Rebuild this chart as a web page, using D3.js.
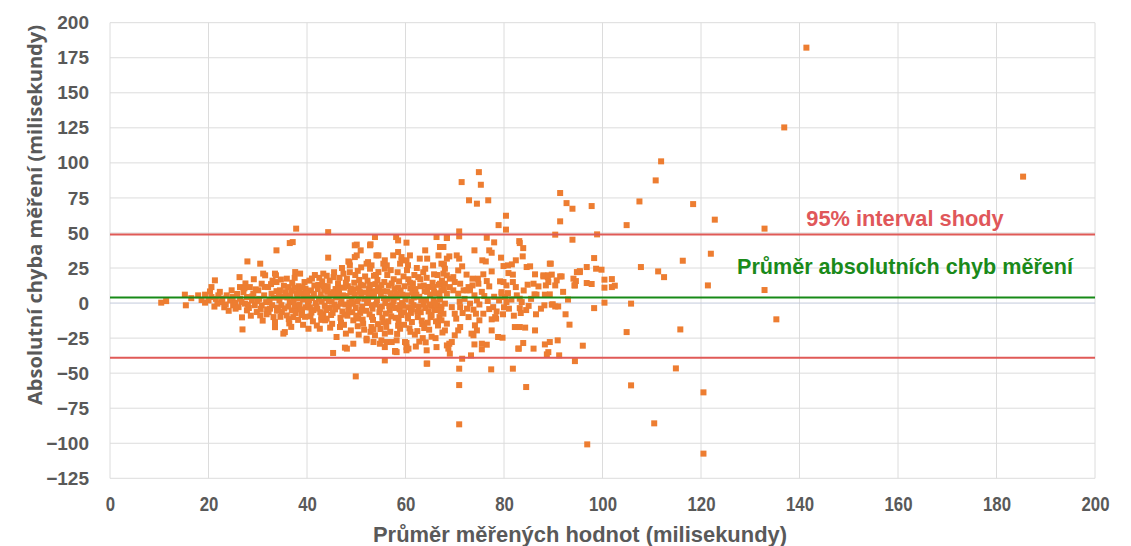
<!DOCTYPE html>
<html><head><meta charset="utf-8">
<script src="https://cdn.jsdelivr.net/npm/d3@7"></script>
<style>body{margin:0;background:#fff}</style>
</head><body><svg id="c" width="1131" height="546"></svg>
<script>
const xTicks = [0,20,40,60,80,100,120,140,160,180,200];
const yTicks = [-125,-100,-75,-50,-25,0,25,50,75,100,125,150,175,200];
const meanDiff = 4;
const upperLimit = 49;
const lowerLimit = -39;
const xTitle = "Průměr měřených hodnot (milisekundy)";
const yTitle = "Absolutní chyba měření (milisekundy)";
const limitLabel = "95% interval shody";
const meanLabel = "Průměr absolutních chyb měření";

const lowPoints = [[10.4,0.3],[11.4,1.4],[15.4,-1.6],[15.2,6],[17.9,5.5],[16.5,3.5],[18.6,2.2]];

const densePoints = [
[20.3,8.3],[20.6,4.3],[20,1.9],[19.3,6],[19.3,0.3],[20.6,11.4],
[21.3,16.2],[22,5.5],[22.7,0.7],[21.8,-0.4],[21.5,3],
[23.7,5.5],[24.7,9.1],[24.4,1.9],[25.4,0.3],[25,-1.6],[23.2,-3],[24.1,-5.5],
[26.3,18.5],[26.4,11.4],[27.1,7.8],[27.8,4.3],[26.4,3.1],[27.4,-0.4],[27.8,-5.2],[26.1,-2.9],[26.9,-18.8],[27.9,29.7],[26.8,-10.2],[27.5,14],
[28.4,11.4],[29.1,6.7],[28.8,1.9],[29.4,-1.6],[29.8,-6.4],[28.6,-9],[29.2,17],[28.2,-3.5],
[30.1,9.1],[30.8,13.8],[31.5,19.8],[31.3,5.5],[31.7,0.7],[30.8,-1.6],[30.5,-8.8],[30.5,28.1],[31,-12.5],[30.3,3],[31.9,-4.5],[31.1,21],
[32.1,11.4],[32.8,6.7],[32.5,-4],[33.2,-10],[33.5,-13.6],[32.4,2.2],[33,16],[33.5,21],[32.9,-1.5],[33.8,8.5],
[33.7,19.8],[33.8,15],[34.5,9.1],[34.4,1.9],[34.9,-6.4],[35.2,-21.8],[35.5,-20.7],[33.8,37.6],[34.1,-3.2],[35,4.5],[35.3,12.3],[34.6,-9.8],
[35.9,17.4],[36.2,11.4],[36.5,0.7],[36.9,-5.2],[37.2,-10],[35.9,-8.8],[37.6,22.1],[37.9,6.7],[37.9,-4],[36.5,42.8],[37.1,43.5],[37.8,53.1],[36.4,-14.5],[36,4],[37.3,2],[36.8,8.8],[37.5,-1.8],[37,14.5],[36.2,-2.5],
[38.6,21],[38.3,12],[38.8,7],[39.2,2.5],[38.5,-1],[39,-6],[38.2,-12],[39.5,15],[39.8,-3],[38.9,-8.5],[39.4,4.8],[38.4,9.5],[39.7,10.2],
[40.3,-18.3],[40.5,16],[40.8,9],[41,3.5],[40.2,-1],[41.3,-5],[40.7,-9.5],[41.5,12.5],[41.8,0],[40.1,6],[41.2,-13],[41.6,20],[40.6,-3],
[42.6,-18.3],[42.3,13],[42.8,6],[43,1],[42.1,-4],[43.3,-8],[42.5,18],[43.5,9.5],[42.9,-12],[43.3,21],[43.8,3.5],[42.2,10],[43.6,-2],[42.7,-6.5],[43.1,15.5],
[44.3,50.6],[44.3,32.4],[45.4,18.5],[44,-11.1],[43.7,-12.3],[45.3,-35.6],[44.2,12],[44.8,6.5],[45,1],[44.5,-3.5],[45.2,-7],[45.8,10],[44.6,16],[45.6,-1],[45.9,4],[44.1,8],[45.1,-14.8],[45.5,22],
[46,-24.2],[46.7,-17.1],[46.3,14],[46.5,7],[47,2],[46.2,-2.5],[47.2,-6],[46.8,-10.5],[47.4,21],[47.5,11],[46.1,4.5],[47.8,-1],[46.6,18],[47.1,25],[46.9,-14],
[48.1,17.4],[48.6,29.2],[48.4,29.7],[48.7,26.9],[48.1,-32.5],[49.4,-29],[47.9,-21.8],[48.9,-19.5],[49.4,-12.3],[47.7,-31.8],[48.3,12],[48.8,7.5],[49.1,3],[48.5,-2],[49.2,-6.5],[48.2,-9],[49.6,14.5],[49.8,20],[48.6,0.5],[49.4,9.8],[48,5],[49.9,-3.5],
[49.7,41.2],[50.1,41.7],[50.9,37.6],[49.7,32.8],[50.1,34],[49.9,-52.3],[51.4,-14.7],[50.3,23],[50.6,16.5],[50.5,10.5],[51,5.5],[50.2,1],[51.2,-2.5],[50.8,-7],[50.4,-11],[51.5,12.5],[51.8,19],[51.1,-5],[51.7,3],[50.7,8],[51.6,-19],[50.5,-22.5],
[52.8,41.2],[52.9,41.9],[52.4,29.2],[52.1,28.1],[52.8,24.5],[52.1,-25.4],[53.1,-17.1],[52.1,-26.6],[53.5,-27.8],[52.3,16],[52.6,10],[53,4.5],[52.2,0],[53.3,-4],[52.7,-8],[53.4,-12],[53.6,19.5],[53.9,13.5],[52.5,6.5],[53.2,-1.5],[53.8,8.5],[52.9,-20.5],
[53.8,47.1],[54.1,34],[53.1,26.9],[54.5,34],[54.5,22.1],[53.8,-23],[54.8,-29],[54.3,16.5],[54.6,11],[55,6],[54.2,2],[55.2,-2.5],[54.7,-6.5],[55.3,-10.5],[54.4,-15],[55.5,28.1],[55.8,24.5],[55.8,30.5],[56.2,26.9],[55.7,15],[55.4,8.5],[55.9,0],[54.9,-18.5],
[55.8,-21.8],[55.1,-26.6],[55.8,-31.4],[55.8,-40.9],[56.2,-27.8],[57.2,-27.8],[56.3,20],[56.6,12.5],[57,7],[56.4,3],[57.3,-1.5],[56.8,-5.5],[57.1,-9.5],[56.5,-13],[57.6,17],[57.8,10],[56.1,-17],[57.4,4.5],[57.9,-3.5],[56.9,-20.5],[57.5,34],[58.1,47.1],[57.9,-34.2],
[58.5,44.7],[58.5,36.4],[59.2,32.8],[58.9,28.1],[59.2,30.5],[58.2,-26.6],[59.9,-27.8],[60.2,-31.4],[57.9,-34.5],[58.9,-18.3],[58.2,-35],[58.4,22],[58.7,15.5],[59,9],[58.3,4],[59.3,0],[58.8,-4.5],[59.1,-8.5],[58.6,-12.5],[59.6,19],[59.8,12],[58.1,6.5],[59.5,-2],[59.7,-15.5],[58.3,-22],
[60.2,43.1],[60.2,30.5],[60.9,34],[60.2,-33.7],[60.2,-28.5],[60.6,-32.5],[60.3,23.5],[60.6,17],[61,10.5],[60.4,5.5],[61.2,1],[60.7,-3],[61.1,-7],[60.5,-11],[61.5,14],[61.8,20],[60.8,-18],[61.6,-1.5],[61.4,7.5],[61.9,-22.5],[61.3,-13.5],
[62.9,31.7],[62.3,25],[62.6,18.5],[63,12],[62.2,6],[63.2,2],[62.7,-2.5],[63.1,-6.5],[62.5,-10],[63.4,-15],[63.6,22],[63.9,8.5],[62.4,-20],[63.5,-25],[62.8,-27.5],[63.7,-1],[62.1,-31],
[64,37.6],[64.4,31.7],[64,24.5],[64.3,-43.2],[64.3,-33.7],[64.3,18],[64.6,11.5],[65,6],[64.2,2],[65.2,-2],[64.7,-6],[65.1,-10],[64.5,-14],[65.5,14.5],[65.6,26.9],[65.8,8],[64.8,-19],[65.3,-24],[64.1,-28],[65.7,2.5],[65.9,-5],
[66.3,47.1],[66.7,34],[66.3,-31.4],[66.5,20],[66.8,13],[67.3,28.1],[67.7,40],[66.2,7],[67,2.5],[66.4,-1.5],[67.2,-6],[66.9,-10],[66.6,-16],[67.5,-21],[67.8,10],[66.1,-25],[67.4,16],
[68.4,46.4],[68.4,31.7],[68.4,-30.2]
];

const bandPoints = [
[25.8,6.5],[26.7,0.8],[27.3,10.5],[28,-1.2],[28.9,4.8],[29.6,9.8],[29.9,1.5],[30.6,-4.2],[31.4,11.5],[31.8,-8],[32.2,-6.5],[32.7,13.5],[33.3,3.8],[33.9,-5.5],[34.3,5.8],[34.8,-1.5],[35.6,7.8],[35.4,-3.8],[36.6,5.2],[36.3,-11.5],[37.4,10.8],[37.7,-7.2],[38.1,3.5],[38.7,-4.5],[39.1,11.2],[39.6,-9.8],[39.9,7],[40.4,1.8],[40.9,-6.8],[41.4,6.5],[41.9,-2.8],[42.4,3.2],[42.9,-9.8],[43.4,12],[43.9,-5],[44.4,1.5],[44.9,-8.5],[45.3,7.8],[45.7,-4.5],[46.4,10.5],[46.9,-0.5],[47.3,5.5],[47.6,-8.2],[47.9,14.5],[48.4,-5.5],[48.9,10.2],[49.3,-0.5],[49.7,6],[50,-9],[50.5,3.2],[50.9,13],[51.3,-11.8],[51.6,7.5],[52,-5.5],[52.4,2.5],[52.8,13],[53.2,-9.8],[53.6,6.5],[54,-1],[54.4,9.5],[54.8,-4.2],[55.1,12.8],[55.6,3.5],[56,-7.5],[56.3,8.2],[56.7,-2],[57.2,14],[57.6,1],[58,-10.5],[58.5,11],[58.9,-1.5],[59.3,6],[59.7,-6.5],[60,2.5],[60.4,-8.8],[60.9,14.5],[61.3,-4.5],[61.7,4],[62,10],[62.4,-6],[62.8,4.5],[63.3,-12.5],[63.7,12.5],[64,-3.5],[64.4,8],[64.9,-1],[65.3,-8.5],[65.7,11.5],[66,0.5],[66.5,-4.5],[66.9,6],[67.3,-2.5],
[42,-16],[44.7,-17.5],[47.5,-15.5],[50.3,-16.5],[53.5,-18.8],[55.5,-13.8],[58.5,-16.2],[61,-20.5],[63.8,-17.8],[66.2,-13],[36.8,-17],[39.2,-15.5],[33.5,-17.2],[41,17.5],[44,19.5],[48.7,22],[51,25.5],[54,20],[57,23.5],[60.5,27],[63,17],[65.8,20.5],[37.5,18],[34.7,16.8],[22.8,3.2],[23.5,-1],[24.9,4.3],[22.3,8],[25.5,-4],[21.2,-2.5],
[71,1],[72.5,-4],[74,5.5],[75.5,8],[76.7,1.5],[78,4.5],[79.8,-8],[81,-4],[82.6,5.5],[84.5,-5]
];

const midPoints = [
[68.4,46.6],[67,40],[74,37.6],[76.5,46.6],[78,43.3],[77,37.6],[77.5,35.9],[83.1,44.2],[83.2,42.8],[83.9,39.2],[83.8,33.3],[68.9,33.3],[70.4,34],[70.9,31.7],[67.8,27.6],[68,24.5],[71.5,26.2],[75.6,30.5],[76.3,29.7],[79.4,32.4],[79.9,26.4],[80.8,26.9],[81.6,27.6],[82.4,30.5],[84.6,25.7],[85.3,26.2],[89.3,28.1],[77.5,22.6],[72.4,20.3],[73.6,17.4],[74.7,17.4],[75.8,20.5],[76.5,15.7],[77,11.9],[74.8,13.8],[73.6,12.6],[73.1,9.1],[72.4,9.1],[79.2,15.5],[79.9,15],[79.5,7.8],[80.5,12.6],[80.8,7.1],[81.8,15],[82.4,11.4],[80.9,21.4],[81.8,20.3],[84.8,13.1],[86,13.8],[87,11.9],[86.2,6.2],[88,19.8],[88.9,18.5],[89,15],[89.7,20.3],[90.4,12.6],[91.4,19],[94.8,22.1],[94.1,17.4],[94.4,12.6],[95.4,22.1],[89.3,6.2],[88.3,6],[91.7,19],[90.7,16.2],[86.3,20.5],[86.6,6],[88.5,12.6],
[83.2,3.1],[83.6,0.7],[80.5,0.7],[80.2,4.3],[79.5,6.7],[79,1.9],[83.2,-3.6],[83.4,-7.1],[88.2,-1.6],[89.7,-1.1],[90.4,-2.4],[91,-2.4],[89.9,-0.9],[93.3,-15.4],[82.2,-17.1],[83.2,-17.1],[84.3,-17.5],[86.3,-19.5],[78.8,-24.2],[79.7,-24.7],[83.9,-28.5],[83,-32.5],[86,-32.5],[88.3,-29.5],[89.3,-27.8],[90.9,-26.6],[88.7,-36.6],[89,-35],[91.2,-37.3],[94.4,-41.4],[77.5,-19.5],[78.4,-11.1],[77.4,-47.3],[81.8,-46.8],[84.5,-59.9],[70.9,-46.8],[70.9,-58.5],[70.9,-86.5],[71.5,-39.7],[73.3,-37.3],[75.5,-33],[76.5,-29.7],[75.5,-29],[74,-29.5],[73.8,-23],[74.5,-19.5],[77.5,-11.6],[78.2,-10],[77,-4.3],[77.8,-2.9],[75.8,-7.6],[75,-12.3],[74.1,-15.9],[73.4,-21.8],[68.9,-29],[69.4,-27.8],[68.7,-32.5],[69,-36.1],[70.7,-19.5],[71.1,-17.1],[70,-23],[68,-19.5],[68.4,-14.7],[70,-7.6],[70.3,-11.1],[71.1,-2.9],[71.6,-7.1],[69.4,-2.9],[73.1,-0.4],[73.8,-4.7],[74.3,-7.6],[72.8,-10],[67.7,-7.6],[67.3,-12.3],[68,-0.4],[67,-5.2],[82.9,-32.5],[64.4,-43.2],[57.9,-34.5],
[67.7,21],[68.4,19.8],[69,17.4],[70,15],[67,13.8],[68,13.8],[69,11.4],[69.7,9.1],[67.3,9.1],[68.4,6.7],[70.7,6.7],[71.8,9.1],[71.1,13.8],[72.8,11.4],[70.7,23.3],[69.7,18.5],
[72,3],[74.5,2],[76,5],[75,-1],[78.5,-6],[80,-3],[81.5,2.5],[82,-9],[85,-2],[86.5,-8],[84,9],[85.5,3],[87.5,-4],[92,8],[93,2.5],[92.5,-8],
[74.9,93.4],[71.4,86.3],[75.3,84.4],[72.9,73.3],[74.5,70.9],[76.8,73.3],[91.4,78.5],[92.7,71.3],[93.9,67.3],[80.4,62.3],[78.9,55.6],[80.4,52.4],[91.4,58.3],[70.9,51.1],[70.9,47.6],[90.4,48.8],[93.9,45.2],[89.5,28.1],[88,19],[89,19.8]
];

const highPoints = [
[141.4,182.2],[136.9,125.3],[111.9,101.1],[110.8,87.5],[185.4,90.2],[97.8,69.2],[107.5,72.5],[118.4,70.6],[104.9,55.6],[122.8,59.5],[132.9,53.1],[98.9,49],[98.3,32.1],[96.8,25.7],[98.7,24.5],[99.8,23.8],[107.8,25.7],[116.3,30.2],[122,35.2],[111.3,22.6],[112.5,18.5],[96.8,14.3],[97.8,13.6],[100.4,16.7],[101.9,17.1],[100.4,11],[101.9,11.4],[102.5,12.4],[121.4,12.6],[132.9,9.3],[98.3,-3.6],[100.4,0.3],[105.8,-0.4],[135.3,-11.6],[104.9,-20.7],[115.8,-18.8],[96,-30.4],[114.9,-46.6],[105.8,-58.7],[120.5,-63.7],[110.5,-85.8],[96.9,-100.8],[120.5,-107.4],[95.4,22.8],[94.6,15.7],[94.3,12.6]
];

const allPoints = lowPoints.concat(densePoints, bandPoints, midPoints, highPoints);

const svg = d3.select("#c");
const x = d3.scaleLinear().domain([0,200]).range([110,1095]);
const y = d3.scaleLinear().domain([-125,200]).range([478.3,22.7]);

// grid
const grid = svg.append("g");
grid.selectAll("line.v").data(xTicks).join("line")
  .attr("x1",d=>x(d)).attr("x2",d=>x(d)).attr("y1",y(200)).attr("y2",y(-125))
  .attr("stroke","#dcdcdc").attr("stroke-width",1);
grid.selectAll("line.h").data(yTicks).join("line")
  .attr("x1",x(0)).attr("x2",x(200)).attr("y1",d=>y(d)).attr("y2",d=>y(d))
  .attr("stroke",d=>d===0?"#c3cadb":"#dcdcdc").attr("stroke-width",1);

// axes labels
const yAxis = svg.append("g").attr("transform",`translate(${x(0)},0)`)
  .call(d3.axisLeft(y).tickValues(yTicks).tickSize(0).tickPadding(21));
yAxis.select(".domain").remove();
yAxis.selectAll("text").attr("font-family","'Liberation Sans',Arial,sans-serif")
  .attr("font-size",19).attr("font-weight","bold").attr("fill","#595959");

const xAxis = svg.append("g").attr("transform",`translate(0,${y(-125)})`)
  .call(d3.axisBottom(x).tickValues(xTicks).tickSize(0).tickPadding(18));
xAxis.select(".domain").remove();
xAxis.selectAll("text").attr("font-family","'Liberation Sans',Arial,sans-serif")
  .attr("font-size",21).attr("font-weight","bold").attr("fill","#595959")
  .attr("transform","scale(0.8,1)");

// points
svg.append("g").selectAll("rect").data(allPoints).join("rect")
  .attr("x",d=>x(d[0])-3).attr("y",d=>y(d[1])-3)
  .attr("width",6).attr("height",6).attr("fill","#ed7d31");

// lines
svg.append("line").attr("x1",x(0)).attr("x2",x(200)).attr("y1",y(upperLimit)).attr("y2",y(upperLimit))
  .attr("stroke","#e05a57").attr("stroke-width",2);
svg.append("line").attr("x1",x(0)).attr("x2",x(200)).attr("y1",y(lowerLimit)).attr("y2",y(lowerLimit))
  .attr("stroke","#e05a57").attr("stroke-width",2);
svg.append("line").attr("x1",x(0)).attr("x2",x(200)).attr("y1",y(meanDiff)).attr("y2",y(meanDiff))
  .attr("stroke","#178a17").attr("stroke-width",2);

// annotations
svg.append("text").attr("x",905).attr("y",y(upperLimit)-8).attr("text-anchor","middle")
  .attr("font-family","'Liberation Sans',Arial,sans-serif").attr("font-size",21.8).attr("font-weight","bold")
  .attr("fill","#e0575a").text(limitLabel);
svg.append("text").attr("x",905).attr("y",y(meanDiff)-23).attr("text-anchor","middle")
  .attr("font-family","'Liberation Sans',Arial,sans-serif").attr("font-size",21.6).attr("font-weight","bold")
  .attr("fill","#1a8a1a").text(meanLabel);

// titles
svg.append("text").attr("x",580).attr("y",542).attr("text-anchor","middle")
  .attr("font-family","'Liberation Sans',Arial,sans-serif").attr("font-size",22).attr("font-weight","bold")
  .attr("fill","#595959").attr("textLength",414).attr("lengthAdjust","spacingAndGlyphs").text(xTitle);
svg.append("text").attr("transform","translate(42,215) rotate(-90)").attr("text-anchor","middle")
  .attr("font-family","'Open Sans','Liberation Sans',Arial,sans-serif").attr("font-size",19.5).attr("font-weight","bold")
  .attr("fill","#595959").attr("textLength",380).attr("lengthAdjust","spacingAndGlyphs").text(yTitle);
</script>
</body></html>
